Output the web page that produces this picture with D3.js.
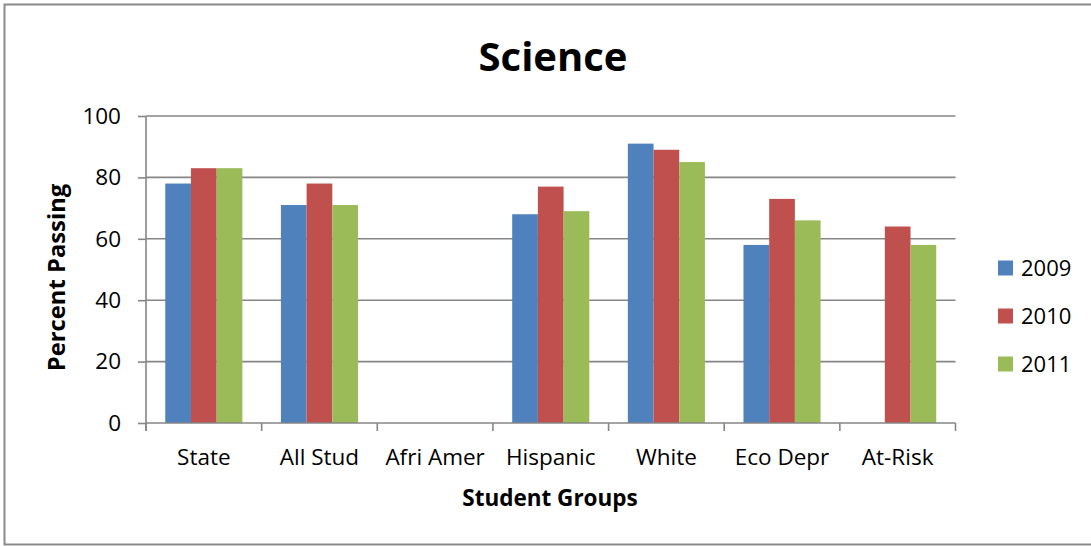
<!DOCTYPE html>
<html>
<head>
<meta charset="utf-8">
<script src="https://cdn.jsdelivr.net/npm/d3@7"></script>
<style>
  html, body { margin: 0; padding: 0; background: #fff; }
  svg { display: block; font-family: "Open Sans", "Noto Sans", sans-serif; }
</style>
</head>
<body>
<svg id="chart" width="1091" height="546"></svg>
<script>
// Science results by student group, 2009–2011
const categories = ["State", "All Stud", "Afri Amer", "Hispanic", "White", "Eco Depr", "At-Risk"];
const years = ["2009", "2010", "2011"];
const values2009 = [78, 71, null, 68, 91, 58, null];
const values2010 = [83, 78, null, 77, 89, 73, 64];
const values2011 = [83, 71, null, 69, 85, 66, 58];
const yTicks = [0, 20, 40, 60, 80, 100];
const colors = ["#4F81BD", "#C0504D", "#9BBB59"];

const seriesValues = [values2009, values2010, values2011];
const rows = categories.map((c, i) => ({
  category: c,
  bars: years.map((y, k) => ({ year: y, value: seriesValues[k][i], color: colors[k] }))
}));

const svg = d3.select("#chart");
const W = 1091, H = 546;
const plot = { left: 146, right: 955.5, top: 116, bottom: 423 };
const axisColor = "#868686";

// outer chart frame
svg.append("rect")
  .attr("x", 4.5).attr("y", 4.5)
  .attr("width", W + 4).attr("height", 540)
  .attr("fill", "#fff")
  .attr("stroke", "#8a8a8a").attr("stroke-width", 2);

const x0 = d3.scaleBand().domain(categories).range([plot.left, plot.right]).paddingInner(0).paddingOuter(0);
const x1 = d3.scaleBand().domain(years).range([0, x0.bandwidth()]).paddingInner(0).paddingOuter(0.75);
const y = d3.scaleLinear().domain([0, 100]).range([plot.bottom, plot.top]);

// horizontal gridlines
svg.append("g")
  .selectAll("line")
  .data(yTicks.filter(t => t > 0))
  .join("line")
  .attr("x1", plot.left).attr("x2", plot.right)
  .attr("y1", d => y(d)).attr("y2", d => y(d))
  .attr("stroke", axisColor).attr("stroke-width", 1.6);

// bars
const groups = svg.append("g")
  .selectAll("g")
  .data(rows)
  .join("g")
  .attr("transform", d => `translate(${x0(d.category)},0)`);

groups.selectAll("rect")
  .data(d => d.bars.filter(b => b.value != null))
  .join("rect")
  .attr("x", d => x1(d.year))
  .attr("width", x1.bandwidth())
  .attr("y", d => y(d.value))
  .attr("height", d => y(0) - y(d.value))
  .attr("fill", d => d.color);

// y axis
const yAxis = d3.axisLeft(y).tickValues(yTicks).tickSize(8).tickPadding(17);
const gy = svg.append("g").attr("transform", `translate(${plot.left},0)`).call(yAxis);
gy.select(".domain").remove();
gy.append("line")
  .attr("x1", 0).attr("x2", 0)
  .attr("y1", plot.top).attr("y2", plot.bottom + 8)
  .attr("stroke", axisColor).attr("stroke-width", 1.6);
gy.selectAll(".tick line").attr("stroke", axisColor).attr("stroke-width", 1.6);
gy.selectAll(".tick text")
  .attr("fill", "#000")
  .style("font-size", "22.5px")
  .style("font-family", "'Open Sans', sans-serif");

// x axis: baseline plus boundary ticks between categories
const gx = svg.append("g");
gx.append("line")
  .attr("x1", plot.left).attr("x2", plot.right)
  .attr("y1", plot.bottom).attr("y2", plot.bottom)
  .attr("stroke", axisColor).attr("stroke-width", 1.6);
const boundaries = categories.map(c => x0(c)).concat([x0.range()[1]]);
gx.selectAll("line.bound")
  .data(boundaries)
  .join("line")
  .attr("class", "bound")
  .attr("x1", d => d).attr("x2", d => d)
  .attr("y1", plot.bottom).attr("y2", plot.bottom + 8)
  .attr("stroke", axisColor).attr("stroke-width", 1.6);
gx.selectAll("text")
  .data(categories)
  .join("text")
  .attr("x", d => x0(d) + x0.bandwidth() / 2)
  .attr("y", 465)
  .attr("text-anchor", "middle")
  .style("font-size", "22.5px")
  .text(d => d);

// title and axis titles
svg.append("text")
  .attr("x", 553).attr("y", 71)
  .attr("text-anchor", "middle")
  .style("font-size", "40px").style("font-weight", "bold")
  .text("Science");

svg.append("text")
  .attr("transform", "translate(65,277.5) rotate(-90)")
  .attr("text-anchor", "middle")
  .style("font-size", "23.8px").style("font-weight", "bold")
  .text("Percent Passing");

svg.append("text")
  .attr("x", 550).attr("y", 506)
  .attr("text-anchor", "middle")
  .style("font-size", "22.5px").style("font-weight", "bold")
  .text("Student Groups");

// legend
const legend = svg.append("g")
  .selectAll("g")
  .data(years)
  .join("g")
  .attr("transform", (d, i) => `translate(998,${268 + i * 48})`);
legend.append("rect")
  .attr("x", 0).attr("y", -7.5)
  .attr("width", 15).attr("height", 15)
  .attr("fill", (d, i) => colors[i]);
legend.append("text")
  .attr("x", 23).attr("y", 0)
  .attr("dy", "0.35em")
  .style("font-size", "22px")
  .text(d => d);
</script>
</body>
</html>
